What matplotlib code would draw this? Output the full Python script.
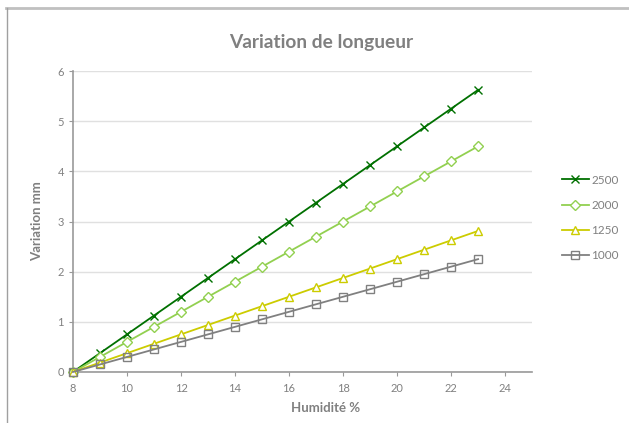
import matplotlib
matplotlib.use("Agg")
import matplotlib.pyplot as plt
from matplotlib.lines import Line2D

plt.rcParams['font.family'] = ['Lato', 'DejaVu Sans']

humidite = [8, 9, 10, 11, 12, 13, 14, 15, 16, 17, 18, 19, 20, 21, 22, 23]
s2500 = [0, 0.375, 0.75, 1.125, 1.5, 1.875, 2.25, 2.625, 3.0, 3.375, 3.75, 4.125, 4.5, 4.875, 5.25, 5.625]
s2000 = [0, 0.3, 0.6, 0.9, 1.2, 1.5, 1.8, 2.1, 2.4, 2.7, 3.0, 3.3, 3.6, 3.9, 4.2, 4.5]
s1250 = [0, 0.1875, 0.375, 0.5625, 0.75, 0.9375, 1.125, 1.3125, 1.5, 1.6875, 1.875, 2.0625, 2.25, 2.4375, 2.625, 2.8125]
s1000 = [0, 0.15, 0.3, 0.45, 0.6, 0.75, 0.9, 1.05, 1.2, 1.35, 1.5, 1.65, 1.8, 1.95, 2.1, 2.25]
series_labels = ['2500', '2000', '1250', '1000']
xticks = [8, 10, 12, 14, 16, 18, 20, 22, 24]
yticks = [0, 1, 2, 3, 4, 5, 6]

fig = plt.figure(figsize=(6.29, 4.23), dpi=100)
ax = fig.add_axes([0.116, 0.1206, 0.730, 0.7114])

gray_txt = '#808080'
styles = [
    dict(color='#007000', marker='x', ms=6, mfc='none', mew=1.0, lw=1.3),
    dict(color='#92D050', marker='D', ms=5, mfc='white', mew=1.0, lw=1.3),
    dict(color='#CCCC00', marker='^', ms=6, mfc='white', mew=1.0, lw=1.3),
    dict(color='#808080', marker='s', ms=6, mfc='none', mew=1.0, lw=1.3),
]
handles = []
for ys, lab, st in zip([s2500, s2000, s1250, s1000], series_labels, styles):
    h, = ax.plot(humidite, ys, label=lab, zorder=3, clip_on=False, **st)
    handles.append(h)

ax.set_xlim(8, 25)
ax.set_ylim(0, 6)
ax.set_xticks(xticks)
ax.set_yticks(yticks)
ax.grid(axis='y', color='#e0e0e0', lw=1)
ax.set_axisbelow(True)
for s in ['top', 'right']:
    ax.spines[s].set_visible(False)
for s in ['left', 'bottom']:
    ax.spines[s].set_color('#999999')
    ax.spines[s].set_linewidth(1.2)
ax.tick_params(axis='both', colors='#999999', labelcolor=gray_txt, labelsize=8, length=3, width=0.8)
ax.tick_params(axis='x', pad=5)

ax.set_xlabel('Humidité %', fontsize=9.5, fontweight='bold', color=gray_txt, labelpad=8)
ax.xaxis.set_label_coords(0.55, -0.10)
ax.set_ylabel('Variation mm', fontsize=9.5, fontweight='bold', color=gray_txt, labelpad=10)
fig.text(0.511, 0.900, 'Variation de longueur', ha='center', va='center',
         fontsize=13.8, fontweight='bold', color=gray_txt)

leg = fig.legend(handles=handles, labels=series_labels, loc='center left',
                 bbox_to_anchor=(0.893, 0.485), frameon=False, fontsize=8.5,
                 handlelength=2.3, labelspacing=1.2, handletextpad=0.2,
                 borderpad=0, borderaxespad=0)
for t in leg.get_texts():
    t.set_color(gray_txt)

# chart border (top and left visible)
fig.add_artist(Line2D([0.0095, 1.0], [0.982, 0.982], transform=fig.transFigure, color='#c0c0c0', lw=2))
fig.add_artist(Line2D([0.011, 0.011], [0.0, 0.982], transform=fig.transFigure, color='#a0a0a0', lw=1))

fig.savefig('out.png', dpi=100)
